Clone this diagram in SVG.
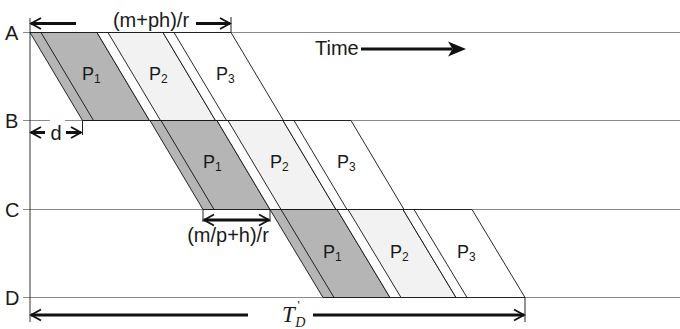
<svg xmlns="http://www.w3.org/2000/svg" width="680" height="329" viewBox="0 0 680 329">
<style>
.grid{stroke:#8a8a8a;stroke-width:1;fill:none}
.axis{stroke:#333;stroke-width:1;fill:none}
.edge{stroke:#111;stroke-width:0.9;fill:none}
.p1{fill:#b5b5b5;stroke:#111;stroke-width:0.9}
.wh{fill:#fff;stroke:#111;stroke-width:0.9}
.p2{fill:#f2f2f2;stroke:#111;stroke-width:0.9}
.lbl{font-family:"Liberation Sans",Arial,sans-serif;font-size:20px;fill:#1a1a1a}
.pl{font-family:"Liberation Sans",Arial,sans-serif;font-size:18px;fill:#1a1a1a}
.sub{font-size:12px}
.arr{stroke:#111;stroke-width:3;fill:none}
.tick{stroke:#222;stroke-width:1;fill:none}
.ser{font-family:"Liberation Serif","Times New Roman",serif;font-style:italic;fill:#1a1a1a}
</style>
<defs>
<marker id="chev" markerUnits="userSpaceOnUse" markerWidth="14" markerHeight="14" viewBox="0 0 14 14" refX="12" refY="7" orient="auto-start-reverse">
<path d="M2,1.5 L12,7 L2,12.5" fill="none" stroke="#111" stroke-width="1.8"/>
</marker>
</defs>
<rect width="680" height="329" fill="#fff"/>
<g id="grid">
<line class="grid" x1="23" y1="32.5" x2="680" y2="32.5"/>
<line class="grid" x1="23" y1="120.5" x2="50" y2="120.5"/>
<line class="grid" x1="65" y1="120.5" x2="680" y2="120.5"/>
<line class="grid" x1="23" y1="209.5" x2="680" y2="209.5"/>
<line class="grid" x1="23" y1="297.5" x2="680" y2="297.5"/>
<line class="axis" x1="30" y1="18" x2="30" y2="322"/>
</g>
<g id="labels">
<text class="lbl" x="5" y="39.5">A</text>
<text class="lbl" x="5" y="128">B</text>
<text class="lbl" x="5" y="217">C</text>
<text class="lbl" x="5" y="305">D</text>
</g>
<!-- Stage A -->
<g id="A-P1">
<polygon class="p1" points="30,32.5 97,32.5 149.5,120.5 82.5,120.5"/>
<line class="edge" x1="41" y1="32.5" x2="93.5" y2="120.5"/>
<text class="pl" x="82" y="80">P<tspan class="sub" dy="3">1</tspan></text>
</g>
<g id="A-P2">
<polygon class="wh" points="97,32.5 163,32.5 215.5,120.5 149.5,120.5"/>
<polygon class="p2" points="108,32.5 163,32.5 215.5,120.5 160.5,120.5"/>
<text class="pl" x="149" y="80">P<tspan class="sub" dy="3">2</tspan></text>
</g>
<g id="A-P3">
<polygon class="wh" points="163,32.5 231,32.5 283.5,120.5 215.5,120.5"/>
<line class="edge" x1="174" y1="32.5" x2="226.5" y2="120.5"/>
<text class="pl" x="216" y="80">P<tspan class="sub" dy="3">3</tspan></text>
</g>
<!-- Stage B -->
<g id="B-P1">
<polygon class="p1" points="150,120.5 217,120.5 270,209.5 203,209.5"/>
<line class="edge" x1="161" y1="120.5" x2="214" y2="209.5"/>
<text class="pl" x="203" y="168">P<tspan class="sub" dy="3">1</tspan></text>
</g>
<g id="B-P2">
<polygon class="wh" points="217,120.5 283,120.5 336,209.5 270,209.5"/>
<polygon class="p2" points="228,120.5 283,120.5 336,209.5 281,209.5"/>
<text class="pl" x="270" y="168">P<tspan class="sub" dy="3">2</tspan></text>
</g>
<g id="B-P3">
<polygon class="wh" points="283,120.5 351,120.5 404,209.5 336,209.5"/>
<line class="edge" x1="294" y1="120.5" x2="347" y2="209.5"/>
<text class="pl" x="337" y="168">P<tspan class="sub" dy="3">3</tspan></text>
</g>
<!-- Stage C -->
<g id="C-P1">
<polygon class="p1" points="270,209.5 337,209.5 390,297.5 323,297.5"/>
<line class="edge" x1="281" y1="209.5" x2="334" y2="297.5"/>
<text class="pl" x="323" y="258">P<tspan class="sub" dy="3">1</tspan></text>
</g>
<g id="C-P2">
<polygon class="wh" points="337,209.5 403,209.5 456,297.5 390,297.5"/>
<polygon class="p2" points="348,209.5 403,209.5 456,297.5 401,297.5"/>
<text class="pl" x="390" y="258">P<tspan class="sub" dy="3">2</tspan></text>
</g>
<g id="C-P3">
<polygon class="wh" points="403,209.5 472,209.5 525,297.5 456,297.5"/>
<line class="edge" x1="414" y1="209.5" x2="467" y2="297.5"/>
<text class="pl" x="457" y="258">P<tspan class="sub" dy="3">3</tspan></text>
</g>
<g id="connectors">
<line class="tick" x1="231" y1="17" x2="231" y2="32.5"/>
<line class="tick" x1="82.5" y1="120.5" x2="82.5" y2="135"/>
<line class="tick" x1="203" y1="209.5" x2="203" y2="222"/>
<line class="tick" x1="270" y1="209.5" x2="270" y2="222"/>
<line class="tick" x1="525" y1="297.5" x2="525" y2="322"/>
<path class="arr" d="M76,23.5 L31,23.5" marker-end="url(#chev)"/>
<path class="arr" d="M196,23.5 L230,23.5" marker-end="url(#chev)"/>
<path class="arr" d="M45,132.5 L31,132.5" marker-end="url(#chev)"/>
<path class="arr" d="M66,132.5 L81,132.5" marker-end="url(#chev)"/>
<path class="arr" stroke-width="2.5" d="M204,220 L269,220" marker-start="url(#chev)" marker-end="url(#chev)"/>
<path class="arr" d="M248,315 L31,315" marker-end="url(#chev)"/>
<path class="arr" d="M313,315 L524,315" marker-end="url(#chev)"/>
<path class="arr" stroke-width="2.5" d="M361,49 L452,49"/>
<path d="M466,49 L448,41.5 L452.5,49 L448,56.5 Z" fill="#111"/>
</g>
<g id="texts">
<text class="lbl" x="151" y="27" text-anchor="middle" font-size="21">(m+ph)/r</text>
<text class="lbl" x="56" y="140" text-anchor="middle">d</text>
<text class="lbl" x="228" y="242" text-anchor="middle">(m/p+h)/r</text>
<text class="lbl" x="315" y="55">Time</text>
<text class="ser" x="282" y="321.5" font-size="23">T<tspan font-size="14" dx="0.5" dy="5.5">D</tspan><tspan font-style="normal" font-size="13" dx="-8" dy="-18">'</tspan></text>
</g>
</svg>
